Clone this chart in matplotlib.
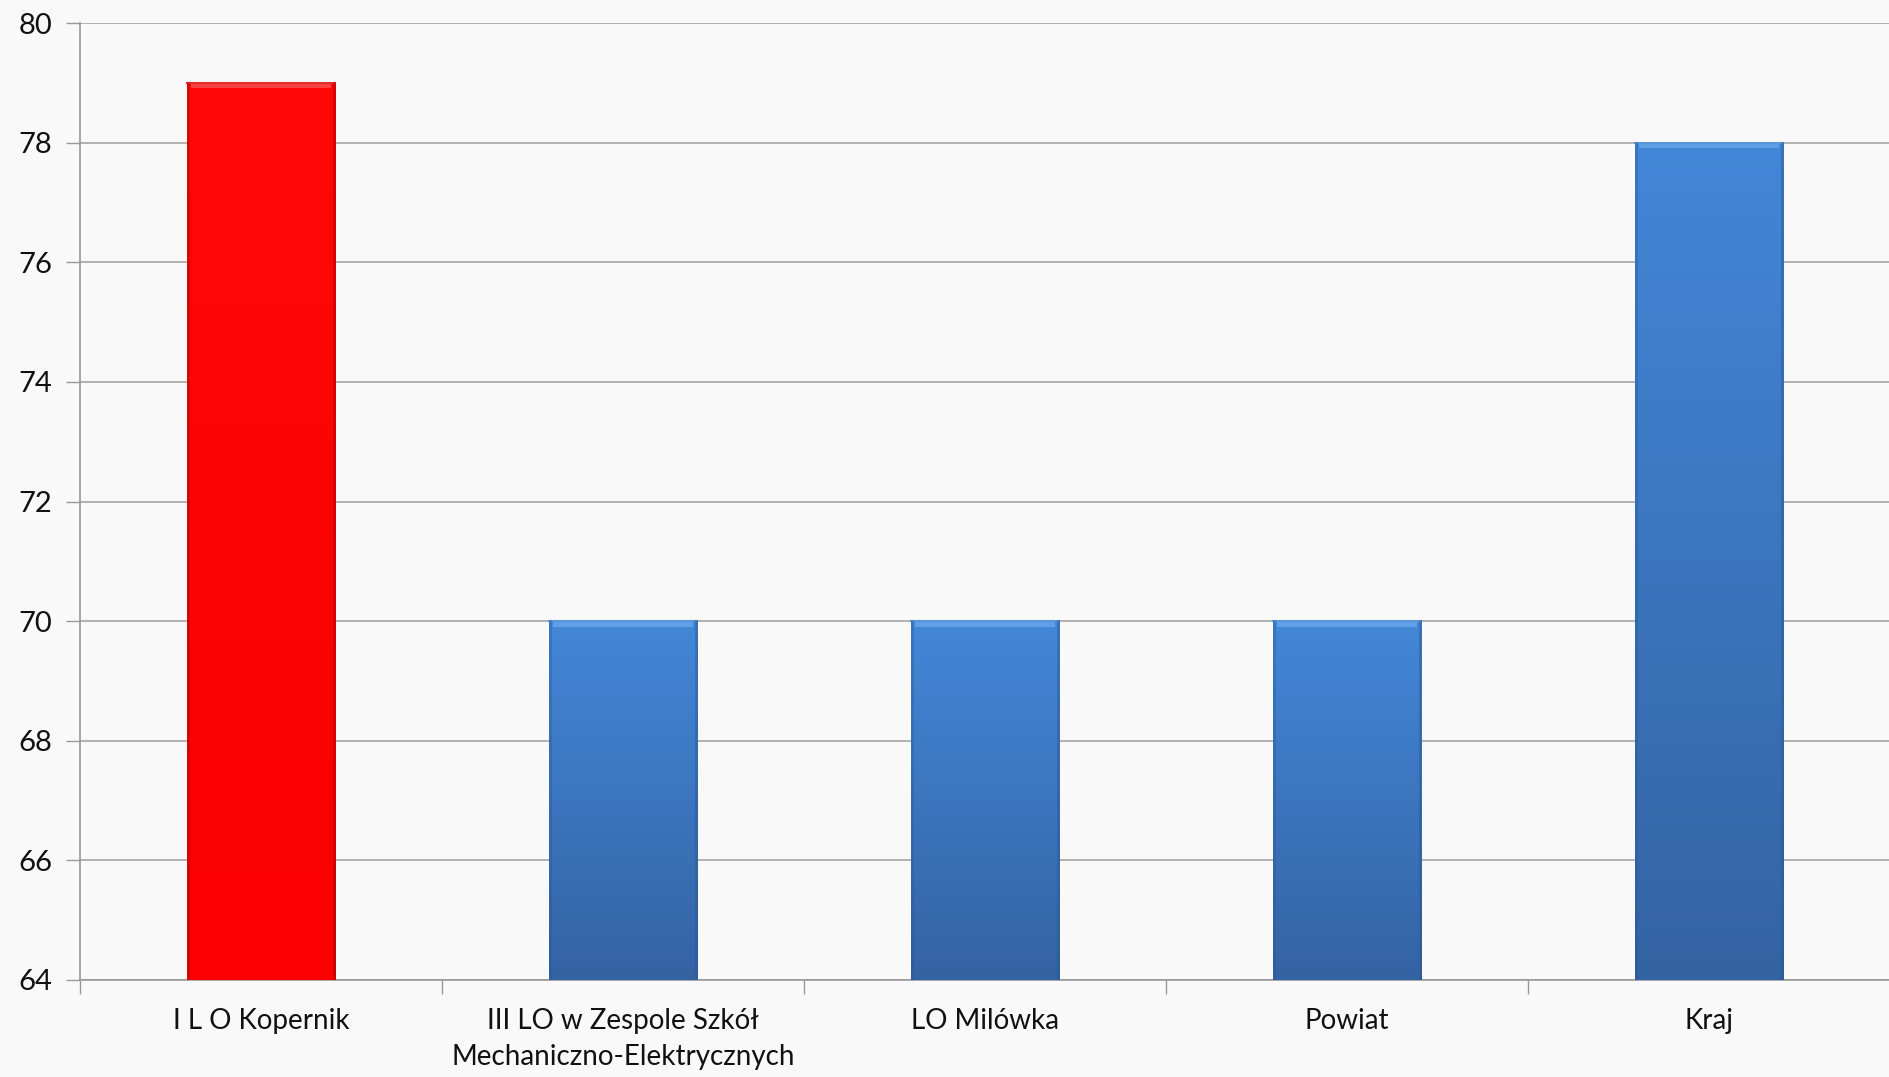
import numpy as np
import matplotlib
matplotlib.use("Agg")
import matplotlib.pyplot as plt
from matplotlib.colors import LinearSegmentedColormap

# data
categories = ["I L O Kopernik", "III LO w Zespole Szkół\nMechaniczno-Elektrycznych",
              "LO Milówka", "Powiat", "Kraj"]
values = [79, 70, 70, 70, 78]
highlight = [True, False, False, False, False]

plt.rcParams['font.family'] = ['Lato', 'DejaVu Sans']

fig = plt.figure(figsize=(18.9, 10.77), dpi=100)
fig.patch.set_facecolor("#f9f9f9")
ax = fig.add_axes([80 / 1890, 1 - 980 / 1077, 1810 / 1890, (980 - 23) / 1077])
ax.set_facecolor("none")

ymin, ymax = 64, 80
x = np.arange(len(categories))
bars = ax.bar(x, np.array(values) - ymin, bottom=ymin, width=0.41,
              color="none", edgecolor="none", zorder=3)

blue = LinearSegmentedColormap.from_list("b", ["#4387d8", "#3463a3"])
red = LinearSegmentedColormap.from_list("r", ["#ff0808", "#fa0000"])
grad = np.linspace(0, 1, 256).reshape(-1, 1)
for b, hl in zip(bars, highlight):
    x0, w = b.get_x(), b.get_width()
    y0, h = b.get_y(), b.get_height()
    # origin upper: first row (light) at the top of the bar
    im = ax.imshow(grad, cmap=red if hl else blue, aspect="auto",
                   extent=[x0, x0 + w, y0, y0 + h], zorder=3)
    im.set_clip_path(b)
    # bevel: light strip at top, darker edges on the sides
    ax.fill_between([x0 + 0.012, x0 + w - 0.012], y0 + h - 0.09, y0 + h,
                    color="#ff5a5a" if hl else "#6aaaf0", alpha=0.7, lw=0, zorder=4)
    ax.plot([x0, x0 + w], [y0 + h, y0 + h], color="#e03030" if hl else "#5a95d8",
            lw=1.5, zorder=5)
    ax.plot([x0 + 0.004, x0 + 0.004], [y0, y0 + h], color="#a00000" if hl else "#2a5590",
            lw=2, alpha=0.35, zorder=5)
    ax.plot([x0 + w - 0.004, x0 + w - 0.004], [y0, y0 + h],
            color="#a00000" if hl else "#2a5590", lw=2, alpha=0.45, zorder=5)

ax.set_xlim(-0.5, len(categories) - 0.5)
ax.set_ylim(ymin, ymax)
ax.set_yticks(np.arange(64, 81, 2))
ax.yaxis.grid(True, color="#a6a6a6", lw=1.2, zorder=0)
ax.set_axisbelow(True)

ax.set_xticks(x)
ax.set_xticklabels(categories, fontsize=20, color="#111111", linespacing=1.5)
ax.set_xticks(np.arange(-0.5, len(categories), 1), minor=True)
ax.tick_params(axis="x", which="major", length=0, pad=20)
ax.tick_params(axis="x", which="minor", length=10, color="#999999", width=1)
ax.tick_params(axis="y", labelsize=21, length=10, color="#999999", width=1,
               labelcolor="#111111", pad=10)

for s in ["top", "right"]:
    ax.spines[s].set_visible(False)
ax.spines["left"].set_color("#999999")
ax.spines["bottom"].set_color("#999999")
ax.spines["left"].set_linewidth(1.2)
ax.spines["bottom"].set_linewidth(1.2)

fig.savefig("out.png", dpi=100, facecolor=fig.get_facecolor())
